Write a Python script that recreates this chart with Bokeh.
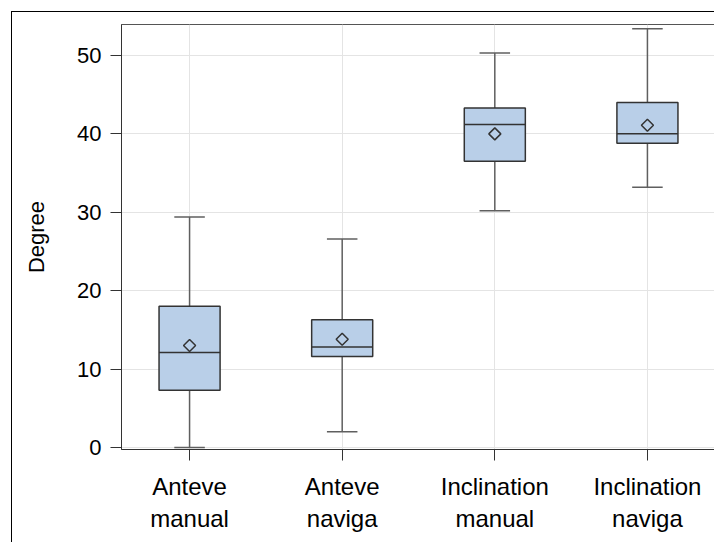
import numpy as np
from bokeh.plotting import figure
from bokeh.models import Range1d, FixedTicker, ColumnDataSource
from bokeh.embed import file_html
from bokeh.resources import INLINE

# ---- data ----
categories = ["Anteve\nmanual", "Anteve\nnaviga", "Inclination\nmanual", "Inclination\nnaviga"]
whisker_low = [0.0, 2.0, 30.2, 33.2]
q1 = [7.3, 11.6, 36.5, 38.8]
median = [12.1, 12.8, 41.2, 40.0]
q3 = [18.0, 16.3, 43.3, 44.0]
whisker_high = [29.4, 26.6, 50.3, 53.4]
mean = [13.0, 13.8, 40.0, 41.1]
y_ticks = [0, 10, 20, 30, 40, 50]

xs = list(range(len(categories)))
box_w = 0.4
cap_w = 0.2

src = ColumnDataSource(dict(
    x=xs, lo=whisker_low, q1=q1, med=median, q3=q3, hi=whisker_high, mean=mean,
    bx0=[x - box_w / 2 for x in xs], bx1=[x + box_w / 2 for x in xs],
    cx0=[x - cap_w / 2 for x in xs], cx1=[x + cap_w / 2 for x in xs],
))

FONT = "Liberation Sans"

p = figure(
    width=703, height=531,
    x_range=Range1d(-0.446, 3.446), y_range=Range1d(-0.26, 53.95),
    output_backend="svg", toolbar_location=None,
    min_border_left=109, min_border_right=0, min_border_top=12, min_border_bottom=94,
    styles={"margin-left": "11px", "margin-top": "11px",
            "border-left": "1px solid #000", "border-top": "1px solid #000"},
)
p.background_fill_color = "white"
p.border_fill_color = "white"
p.outline_line_color = "#555555"
p.outline_line_width = 1

# grids
p.xgrid.grid_line_color = "#e4e4e4"
p.ygrid.grid_line_color = "#e4e4e4"
p.xgrid.grid_line_width = 1
p.ygrid.grid_line_width = 1

# axes
p.xaxis.ticker = FixedTicker(ticks=xs)
p.xaxis.major_label_overrides = {i: c for i, c in zip(xs, categories)}
p.yaxis.ticker = FixedTicker(ticks=y_ticks)
for ax in (p.xaxis[0], p.yaxis[0]):
    ax.axis_line_color = "#333333"
    ax.major_tick_line_color = "#333333"
    ax.major_tick_out = 11
    ax.major_tick_in = 0
    ax.minor_tick_line_color = None
    ax.major_label_text_font = FONT
    ax.major_label_text_color = "black"
p.xaxis.major_label_text_font_size = "24px"
p.xaxis.major_label_standoff = 12
p.yaxis.major_label_text_font_size = "22px"
p.yaxis.major_label_standoff = 9
p.yaxis.axis_label = "Degree"
p.yaxis.axis_label_text_font = FONT
p.yaxis.axis_label_text_font_size = "22px"
p.yaxis.axis_label_text_font_style = "normal"
p.yaxis.axis_label_text_color = "black"
p.yaxis.axis_label_standoff = 25

# whiskers
wcol = "#5f5f5f"
p.segment(x0="x", y0="lo", x1="x", y1="q1", source=src, line_color=wcol, line_width=1.5)
p.segment(x0="x", y0="q3", x1="x", y1="hi", source=src, line_color=wcol, line_width=1.5)
p.segment(x0="cx0", y0="lo", x1="cx1", y1="lo", source=src, line_color=wcol, line_width=1.5)
p.segment(x0="cx0", y0="hi", x1="cx1", y1="hi", source=src, line_color=wcol, line_width=1.5)

# boxes
p.vbar(x="x", width=box_w, bottom="q1", top="q3", source=src,
       fill_color="#b9cfe8", line_color="#333333", line_width=1.5)
# median
p.segment(x0="bx0", y0="med", x1="bx1", y1="med", source=src, line_color="#333333", line_width=1.5)
# mean
p.scatter(x="x", y="mean", source=src, marker="square", angle=np.pi / 4, size=8.5,
          fill_color=None, line_color="#333333", line_width=1.5)

open("out.html", "w").write(file_html(p, INLINE))
